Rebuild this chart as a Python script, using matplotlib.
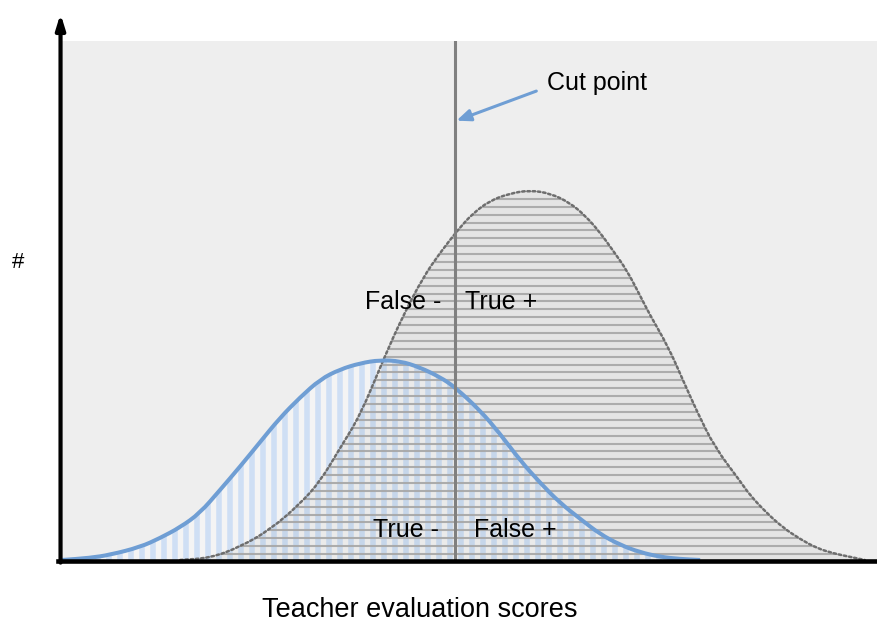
import numpy as np
import matplotlib
matplotlib.use('Agg')
from matplotlib import pyplot as plt
from matplotlib.path import Path
from matplotlib.patches import PathPatch

plt.rcParams['font.family'] = ['Liberation Sans', 'DejaVu Sans']

# blue curve (solid): score vs count
low_x = [0.0, 3.4, 5.9, 9.6, 12.0, 14.5, 16.9, 19.4, 21.8, 24.3, 26.7, 29.2, 31.7,
         34.1, 36.6, 39.0, 41.5, 43.9, 46.4, 48.2, 51.3, 53.7, 56.2, 58.7, 61.1,
         63.6, 66.0, 68.5, 70.9, 73.4, 75.8, 78.3]
low_y = [0.0, 0.4, 1.0, 2.5, 4.2, 6.3, 9.0, 13.5, 17.9, 22.7, 27.3, 31.3, 34.8,
         36.7, 37.9, 38.5, 38.3, 37.1, 35.2, 33.3, 28.8, 24.4, 19.2, 14.8, 11.0,
         7.9, 5.0, 2.9, 1.5, 0.6, 0.2, 0.0]

# gray curve (dotted)
high_x = [14.5, 18.2, 21.8, 25.5, 29.2, 31.7, 34.1, 36.6, 39.4, 41.8, 44.3, 46.4,
          48.8, 50.4, 52.5, 55.0, 57.4, 59.9, 62.3, 64.2, 66.0, 67.6, 69.3, 70.9,
          72.1, 74.4, 76.2, 78.0, 80.1, 83.2, 84.4, 86.5, 88.5, 90.6, 92.6, 94.6,
          96.7, 98.5]
high_y = [0.0, 0.4, 2.5, 5.8, 10.8, 15.2, 21.5, 27.9, 38.5, 46.9, 54.4, 59.2,
          64.0, 66.7, 69.2, 70.6, 71.2, 70.6, 68.8, 66.3, 63.1, 59.6, 55.8, 51.0,
          47.3, 41.0, 34.6, 28.3, 21.7, 15.2, 12.5, 9.0, 6.2, 4.0, 2.3, 1.3,
          0.6, 0.0]

cut_score = 48.2
cut_label = 'Cut point'
upper_labels = ['False -', 'True +']
lower_labels = ['True -', 'False +']
x_label = 'Teacher evaluation scores'
y_label = '#'

blue = '#6f9ed4'


def smooth_path(x, y, close=False):
    # quadratic bezier through midpoints, the read points act as control points
    p = np.column_stack([x, y])
    verts = [p[0], (p[0] + p[1]) / 2]
    codes = [Path.MOVETO, Path.LINETO]
    for i in range(1, len(p) - 1):
        verts += [p[i], (p[i] + p[i + 1]) / 2]
        codes += [Path.CURVE3, Path.CURVE3]
    verts.append(p[-1])
    codes.append(Path.LINETO)
    if close:
        verts.append(p[0])
        codes.append(Path.CLOSEPOLY)
    return Path(verts, codes)


fig = plt.figure(figsize=(8.77, 6.24), dpi=100)
ax = fig.add_axes([62/877, 64/624, 815/877, 519.3/624])
ax.set_facecolor('#eeeeee')
ax.set_xlim(0, 100)
ax.set_ylim(0, 100)
for s in ax.spines.values():
    s.set_visible(False)
ax.set_xticks([])
ax.set_yticks([])

# blue area: vertical stripes
blue_patch = PathPatch(smooth_path(low_x, low_y, True), fc='#f4f4f4', lw=0, zorder=1)
ax.add_patch(blue_patch)
stripes = ax.vlines(np.arange(0.4, 80, 1.35), 0, 40, color='#cfdff4', lw=4, zorder=1.1)
stripes.set_clip_path(blue_patch)

# gray area: horizontal lines
gray_patch = PathPatch(smooth_path(high_x, high_y, True), fc='black', alpha=0.04,
                       lw=0, zorder=1.2)
ax.add_patch(gray_patch)
hl = ax.hlines(np.arange(1.15, 72, 1.52), 0, 100, color='#a6a6a6', lw=1.5,
               alpha=0.9, zorder=1.3)
hl.set_clip_path(gray_patch)

ax.add_patch(PathPatch(smooth_path(high_x, high_y), fill=False, ec='#6e6e6e', lw=1.8,
                       linestyle=(0, (1, 1.1)), capstyle='round', zorder=2))
ax.add_patch(PathPatch(smooth_path(low_x, low_y), fill=False, ec=blue, lw=2.9,
                       zorder=2.1, clip_on=False))
ax.plot([cut_score, cut_score], [0.4, 100], color='#808080', lw=2.2, zorder=2.2)

ax.annotate('', xy=(cut_score + 0.2, 84.6), xytext=(58.2, 90.3),
            arrowprops=dict(arrowstyle='-|>,head_length=0.6,head_width=0.25',
                            mutation_scale=14, color=blue, lw=2.2,
                            shrinkA=0, shrinkB=0), zorder=3)
ax.text(59.5, 91.9, cut_label, fontsize=18, va='center', ha='left', zorder=4)

ax.text(46.5, 49.7, upper_labels[0], fontsize=18, va='center', ha='right', zorder=4)
ax.text(49.4, 49.7, upper_labels[1], fontsize=18, va='center', ha='left', zorder=4)
ax.text(46.3, 5.8, lower_labels[0], fontsize=18, va='center', ha='right', zorder=4)
ax.text(50.6, 5.8, lower_labels[1], fontsize=18, va='center', ha='left', zorder=4)

# axes lines
ax.plot([-0.5, 100], [-0.1, -0.1], color='black', lw=3.3, clip_on=False, zorder=5)
ax.annotate('', xy=(-0.18, 105.2), xytext=(-0.18, -0.5), annotation_clip=False,
            arrowprops=dict(arrowstyle='-|>,head_length=0.55,head_width=0.17',
                            mutation_scale=16, color='black', lw=3,
                            shrinkA=0, shrinkB=0), zorder=5)

fig.text(18/877, 1 - 262/624, y_label, fontsize=16, ha='center', va='center')
fig.text(420/877, 1 - 610/624, x_label, fontsize=19.5, ha='center', va='center')

fig.savefig('out.png', dpi=100)
